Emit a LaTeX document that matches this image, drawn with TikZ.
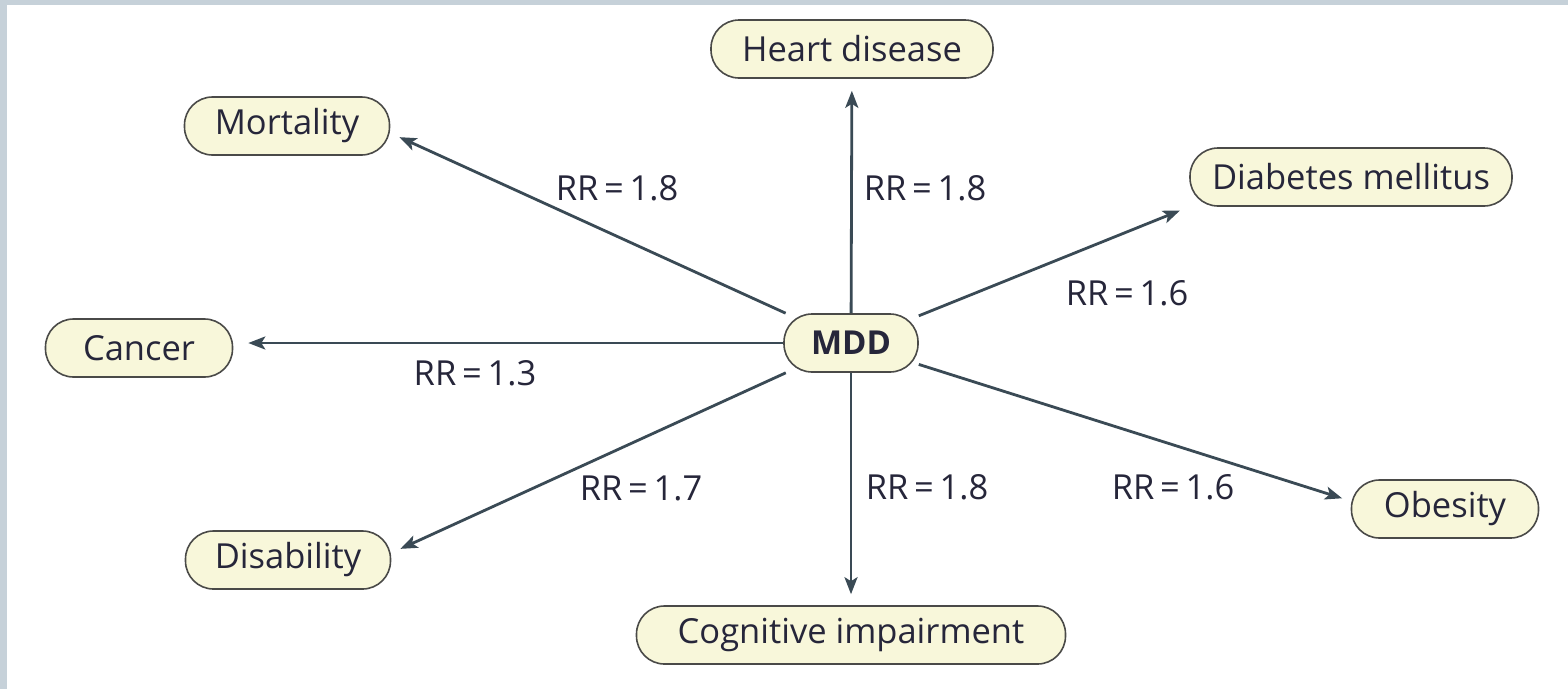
\documentclass[tikz,border=0pt]{standalone}
\usepackage{fontspec}
\setmainfont{Open Sans}
\usetikzlibrary{arrows.meta}
\definecolor{bordergray}{HTML}{C6D1D9}
\definecolor{boxfill}{HTML}{F8F7DA}
\definecolor{boxline}{HTML}{4A4A48}
\definecolor{arrowcol}{HTML}{3A4A55}
\definecolor{txt}{HTML}{26263A}
\tikzset{
  outcome/.style={draw=boxline, line width=1.6pt, fill=boxfill, rounded corners=28pt,
    minimum height=58pt, inner xsep=0pt, text=txt, font=\fontsize{34.5}{36}\selectfont},
  link/.style={draw=arrowcol, line width=2.8pt, -{Stealth[length=17pt,width=13pt,inset=4pt]}},
  rr/.style={text=txt, font=\fontsize{34.5}{36}\selectfont, inner sep=0pt}
}
\begin{document}
\begin{tikzpicture}[x=1pt,y=-1pt]
\useasboundingbox (0,0) rectangle (1568,689);
\fill[bordergray] (0,0) rectangle (1568,689);
\fill[white] (7,5) rectangle (1568,689);

\node[outcome, minimum width=134pt, font=\fontsize{33}{35}\selectfont\bfseries] (mdd) at (851,343) {MDD};
\node[outcome, minimum width=282pt] (heart) at (852,49) {Heart disease};
\node[outcome, minimum width=205pt] (mort) at (287,126) {Mortality};
\node[outcome, minimum width=322pt] (diab) at (1351,177) {Diabetes mellitus};
\node[outcome, minimum width=187pt] (cancer) at (139,348) {Cancer};
\node[outcome, minimum width=205pt] (dis) at (288,560) {Disability};
\node[outcome, minimum width=429pt] (cog) at (851,635) {Cognitive impairment};
\node[outcome, minimum width=187pt] (obes) at (1445,509) {Obesity};

\draw[link, shorten >=10pt] (mdd) -- ([yshift=-7pt]mort.east);
\draw[link, shorten >=12pt] (mdd) -- (heart);
\draw[link, shorten >=10pt] (mdd) -- (diab.south west);
\draw[link, shorten >=15pt] (mdd.west) -- (mdd.west -| cancer.east);
\draw[link, shorten >=10pt] (mdd) -- ([yshift=7pt]dis.east);
\draw[link, shorten >=11pt] (mdd) -- (cog);
\draw[link, shorten >=9pt] (mdd) -- ([yshift=8pt]obes.west);

\node[rr] (l1) at (617,188) {RR\,=\,1.8};
\node[rr] (l2) at (925,188) {RR\,=\,1.8};
\node[rr] (l3) at (1127,293) {RR\,=\,1.6};
\node[rr] (l4) at (475,373) {RR\,=\,1.3};
\node[rr] (l5) at (641,488) {RR\,=\,1.7};
\node[rr] (l6) at (927,487) {RR\,=\,1.8};
\node[rr] (l7) at (1173,487) {RR\,=\,1.6};
\end{tikzpicture}
\end{document}
